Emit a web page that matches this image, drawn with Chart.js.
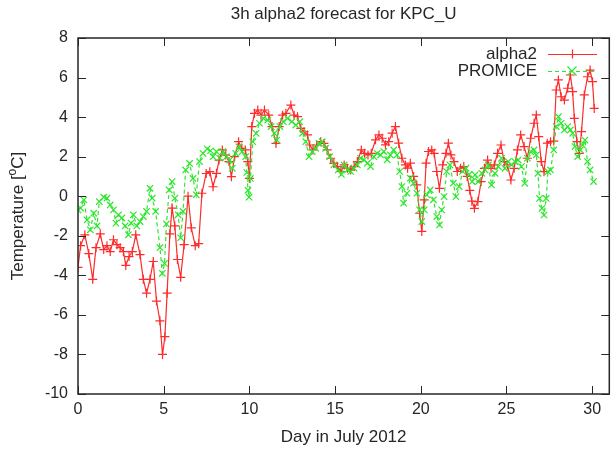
<!DOCTYPE html>
<html lang="en">
<head>
  <meta charset="UTF-8" />
  <title>3h alpha2 forecast for KPC_U</title>
  <script src="https://cdn.jsdelivr.net/npm/chart.js"></script>
  <style>
    * { margin: 0; padding: 0; box-sizing: border-box; }
    body { background: #ffffff; }
    canvas { display: block; }
  </style>
</head>
<body>
  <canvas id="forecastChart" width="615" height="449"></canvas>

  <script>
    // Day in July 2012 and temperature (°C)
    const alphaDays = [
      0.00, 0.15, 0.40, 0.63, 0.86, 1.05, 1.30, 1.50, 1.69, 1.88, 2.07, 2.27, 2.46, 2.65, 2.79, 2.98,
      3.17, 3.37, 3.62, 3.81, 4.00, 4.20, 4.39, 4.58, 4.78, 4.93, 5.07, 5.20, 5.36, 5.49, 5.65, 5.80,
      5.99, 6.19, 6.42, 6.61, 6.84, 7.04, 7.23, 7.48, 7.69, 7.88, 8.08, 8.23, 8.42, 8.62, 8.81, 8.95,
      9.14, 9.37, 9.56, 9.76, 9.91, 10.00, 10.14, 10.30, 10.49, 10.68, 10.88, 11.13, 11.32, 11.55,
      11.74, 11.94, 12.13, 12.42, 12.61, 12.81, 13.00, 13.19, 13.39, 13.52, 13.71, 13.93, 14.16,
      14.35, 14.54, 14.74, 14.93, 15.14, 15.33, 15.53, 15.72, 15.91, 16.11, 16.30, 16.53, 16.72,
      16.92, 17.11, 17.36, 17.56, 17.75, 17.94, 18.13, 18.33, 18.52, 18.71, 18.90, 19.10, 19.23,
      19.39, 19.58, 19.77, 19.93, 20.06, 20.20, 20.31, 20.45, 20.64, 20.78, 20.93, 21.09, 21.28,
      21.47, 21.61, 21.76, 21.94, 22.13, 22.32, 22.51, 22.71, 22.86, 22.98, 23.13, 23.33, 23.52,
      23.71, 23.90, 24.10, 24.29, 24.48, 24.68, 24.87, 25.06, 25.26, 25.45, 25.64, 25.83, 26.03,
      26.22, 26.41, 26.61, 26.74, 26.88, 27.03, 27.19, 27.38, 27.57, 27.76, 27.90, 28.03, 28.19,
      28.38, 28.57, 28.73, 28.86, 28.96, 29.11, 29.25, 29.38, 29.54, 29.73, 29.88, 30.02, 30.12
    ];
    const alphaTemps = [
      -3.6, -2.5, -1.95, -2.9, -4.2, -2.6, -1.9, -2.7, -2.5, -2.8, -2.2, -2.45, -2.6, -2.8, -3.5, -3.05,
      -2.8, -1.95, -2.95, -4.2, -4.9, -4.2, -3.3, -5.3, -6.3, -8.0, -7.1, -4.9, -1.9, -0.6, -1.5, -3.2,
      -4.1, -2.45, 0.0, -1.6, -2.5, -2.4, 0.15, 1.15, 1.24, 0.48, 1.16, 1.83, 2.34, 2.08, 1.75, 0.99,
      2.0, 2.76, 2.42, 2.34, 1.75, 0.9, 3.52, 4.19, 4.36, 4.1, 4.36, 4.1, 3.52, 2.67,
      3.52, 4.1, 4.19, 4.61, 4.1, 4.02, 3.43, 3.26, 3.1, 2.59, 2.34, 2.59, 2.76,
      2.67, 2.34, 1.92, 1.66, 1.5, 1.25, 1.58, 1.42, 1.33, 1.5, 1.75, 2.34, 2.17,
      2.09, 2.17, 2.85, 3.1, 2.93, 2.6, 2.76, 3.19, 3.52, 2.68, 1.92, 1.58, 1.42,
      1.67, 1.0, 0.57, -0.86, -1.78, -0.18, 1.67, 2.26, 2.34, 2.17, 1.25, 0.4, 1.58,
      2.17, 2.68, 2.09, 1.75, 1.25, 1.42, 1.5, 1.0, 0.3, -0.25, -0.61, -0.27, 0.74,
      1.41, 1.83, 1.41, 1.58, 2.17, 2.59, 1.75, 1.58, 0.82, 1.41, 2.34, 3.1, 2.51,
      1.92, 2.93, 3.69, 4.11, 3.01, 1.75, 1.24, 2.68, 2.76, 2.79, 5.37, 5.88, 5.03,
      4.86, 5.46, 6.13, 5.29, 3.94, 2.76, 2.17, 3.27, 5.12, 6.04, 6.38, 5.79, 4.44
    ];

    const promiceDays = [
      0.00, 0.15, 0.34, 0.53, 0.72, 0.92, 1.11, 1.24, 1.50, 1.69, 1.88, 2.07, 2.21, 2.36, 2.56, 2.75,
      2.94, 3.10, 3.23, 3.43, 3.62, 3.81, 4.00, 4.20, 4.33, 4.53, 4.78, 4.92, 5.05, 5.16, 5.32, 5.49,
      5.65, 5.84, 5.99, 6.13, 6.28, 6.51, 6.71, 6.90, 7.09, 7.29, 7.54, 7.73, 7.88, 8.08, 8.27, 8.46,
      8.66, 8.85, 9.00, 9.20, 9.39, 9.58, 9.78, 9.85, 9.92, 9.98, 10.06, 10.20, 10.39, 10.59, 10.82,
      11.07, 11.27, 11.46, 11.59, 11.78, 11.98, 12.23, 12.48, 12.71, 12.94, 13.10, 13.29, 13.48,
      13.67, 13.87, 14.06, 14.25, 14.45, 14.68, 14.93, 15.18, 15.37, 15.53, 15.72, 15.91, 16.11,
      16.30, 16.49, 16.69, 16.88, 17.07, 17.26, 17.46, 17.65, 17.84, 18.04, 18.23, 18.42, 18.61,
      18.77, 18.90, 19.00, 19.19, 19.39, 19.58, 19.77, 19.93, 20.06, 20.20, 20.35, 20.55, 20.74,
      20.93, 21.09, 21.22, 21.36, 21.51, 21.70, 21.90, 22.05, 22.24, 22.44, 22.63, 22.82, 23.00,
      23.17, 23.36, 23.56, 23.75, 23.94, 24.13, 24.33, 24.52, 24.71, 24.91, 25.10, 25.29, 25.49,
      25.68, 25.87, 26.07, 26.22, 26.41, 26.61, 26.74, 26.84, 26.93, 27.07, 27.19, 27.32, 27.42,
      27.57, 27.76, 27.90, 28.03, 28.19, 28.38, 28.57, 28.73, 28.86, 29.00, 29.15, 29.31, 29.44,
      29.58, 29.73, 29.88, 30.08
    ];
    const promiceTemps = [
      -0.69, -0.6, -0.18, -1.2, -1.7, -0.86, -1.5, -0.27, -0.05, -0.1, -0.44, -0.69, -1.36, -0.94, -1.1, -1.5,
      -1.95, -1.36, -0.94, -1.5, -1.28, -1.03, -0.77, 0.4, -0.1, -0.77, -2.6, -3.9, -3.4, -1.4, 0.32, 0.74,
      -0.1, -0.94, -2.1, -0.77, 1.33, 1.66, 0.9, 0.07, 1.75, 2.17, 2.4, 2.3, 2.0, 2.25, 1.92, 2.25,
      2.0, 1.83, 1.41, 2.17, 2.5, 2.25, 2.0, 1.2, 0.3, -0.05, 0.9, 2.76, 3.18, 3.69, 3.94,
      3.85, 3.52, 3.18, 2.84, 3.52, 3.77, 3.94, 3.77, 3.6, 3.77, 3.18, 2.76, 2.0,
      2.25, 2.42, 2.67, 2.76, 2.42, 2.0, 1.58, 1.33, 1.1, 1.58, 1.33, 1.25, 1.42,
      1.58, 1.92, 1.84, 1.67, 1.5, 2.0, 2.17, 2.09, 2.26, 1.84, 2.09, 2.34, 2.09,
      1.25, 0.49, -0.35, 0.15, 0.91, 0.66, 0.15, -0.69, -1.28, -0.69, 0.07, 0.32, -0.18,
      -1.03, -1.45, -0.69, -0.02, 1.25, 1.58, 0.66, -0.02, 0.49, 1.25, 1.42, 1.1, 0.74,
      1.08, 0.74, 1.16, 1.33, 1.58, 0.57, 1.16, 1.5, 1.92, 1.41, 1.75, 1.58, 1.75,
      1.83, 1.5, 0.65, 1.92, 2.25, 2.34, 2.09, 1.16, -0.11, -0.61, -0.95, -0.11, 1.24,
      1.33, 2.34, 3.52, 4.02, 3.69, 3.35, 3.52, 3.35, 3.18, 2.51, 2.0, 2.34, 2.59,
      2.84, 1.75, 1.33, 0.74
    ];

    const xTickStep = 5;
    const yTickStep = 2;

    const toPoints = (xs, ys) => xs.map((x, i) => ({ x: x, y: ys[i] }));

    const FONT = '"Liberation Sans", Arial, sans-serif';
    const INK = '#262626';
    const LABEL_SIZE = 17;

    // gnuplot-like frame, inward ticks, titles and key
    const gnuplotLook = {
      id: 'gnuplotLook',
      afterDatasetsDraw(chart) {
        const c = chart.ctx;
        const a = chart.chartArea;
        const xs = chart.scales.x;
        const ys = chart.scales.y;
        const tick = 8;

        c.save();
        c.strokeStyle = INK;
        c.lineWidth = 1;
        c.beginPath();
        xs.ticks.forEach(t => {
          const px = Math.round(xs.getPixelForValue(t.value)) + 0.5;
          c.moveTo(px, a.bottom); c.lineTo(px, a.bottom - tick);
          c.moveTo(px, a.top); c.lineTo(px, a.top + tick);
        });
        ys.ticks.forEach(t => {
          const py = Math.round(ys.getPixelForValue(t.value)) + 0.5;
          c.moveTo(a.left, py); c.lineTo(a.left + tick, py);
          c.moveTo(a.right, py); c.lineTo(a.right - tick, py);
        });
        c.stroke();

        c.lineWidth = 1.5;
        c.strokeRect(a.left, a.top, a.right - a.left, a.bottom - a.top);

        // title
        const cx = (a.left + a.right) / 2;
        c.fillStyle = INK;
        c.font = LABEL_SIZE + 'px ' + FONT;
        c.textAlign = 'center';
        c.textBaseline = 'middle';
        c.fillText('3h alpha2 forecast for KPC_U', cx, 14);

        // x axis title
        c.fillText('Day in July 2012', cx, 437);

        // y axis title with superscript o
        c.save();
        c.translate(18, (a.top + a.bottom) / 2);
        c.rotate(-Math.PI / 2);
        const p1 = 'Temperature [', p2 = 'o', p3 = 'C]';
        c.font = LABEL_SIZE + 'px ' + FONT;
        const w1 = c.measureText(p1).width;
        const w3 = c.measureText(p3).width;
        c.font = '12px ' + FONT;
        const w2 = c.measureText(p2).width;
        const x0 = -(w1 + w2 + w3) / 2;
        c.textAlign = 'left';
        c.font = LABEL_SIZE + 'px ' + FONT;
        c.fillText(p1, x0, 0);
        c.font = '12px ' + FONT;
        c.fillText(p2, x0 + w1, -5);
        c.font = LABEL_SIZE + 'px ' + FONT;
        c.fillText(p3, x0 + w1 + w2, 0);
        c.restore();

        // key
        c.font = LABEL_SIZE + 'px ' + FONT;
        c.textAlign = 'right';
        chart.data.datasets.forEach((ds, i) => {
          const y = 54 + i * 17;
          c.fillStyle = INK;
          c.fillText(ds.label, 537, y);
          c.strokeStyle = ds.borderColor;
          c.lineWidth = ds.borderWidth;
          c.setLineDash(ds.borderDash || []);
          c.beginPath();
          c.moveTo(548, y + 0.5); c.lineTo(597, y + 0.5);
          c.stroke();
          c.setLineDash([]);
          const r = ds.pointRadius;
          c.beginPath();
          if (ds.pointStyle === 'cross') {
            c.moveTo(572 - r, y + 0.5); c.lineTo(572 + r, y + 0.5);
            c.moveTo(572.5, y - r); c.lineTo(572.5, y + r);
          } else {
            c.moveTo(572 - r, y - r); c.lineTo(572 + r, y + r);
            c.moveTo(572 - r, y + r); c.lineTo(572 + r, y - r);
          }
          c.stroke();
        });
        c.restore();
      }
    };

    const ctx = document.getElementById('forecastChart').getContext('2d');
    const chart = new Chart(ctx, {
      type: 'line',
      data: {
        datasets: [{
          label: 'alpha2',
          data: toPoints(alphaDays, alphaTemps),
          borderColor: '#ff2a2a',
          backgroundColor: '#ff2a2a',
          borderWidth: 1.2,
          pointStyle: 'cross',
          pointRadius: 4.5,
          pointBorderWidth: 1.2,
          pointBorderColor: '#ff2a2a',
          tension: 0,
          fill: false,
          order: 2
        }, {
          label: 'PROMICE',
          data: toPoints(promiceDays, promiceTemps),
          borderColor: '#2ee62e',
          backgroundColor: '#2ee62e',
          borderWidth: 1.2,
          borderDash: [4, 3],
          pointStyle: 'crossRot',
          pointRadius: 4.5,
          pointBorderWidth: 1.2,
          pointBorderColor: '#2ee62e',
          tension: 0,
          fill: false,
          order: 1
        }]
      },
      options: {
        responsive: false,
        animation: false,
        layout: { padding: { top: 38, right: 2, left: 0, bottom: 0 } },
        plugins: {
          legend: { display: false },
          title: { display: false },
          tooltip: { enabled: false }
        },
        scales: {
          x: {
            type: 'linear',
            min: 0,
            max: 31,
            ticks: {
              stepSize: xTickStep,
              includeBounds: false,
              color: INK,
              font: { family: FONT, size: 16 },
              padding: 6,
              maxRotation: 0
            },
            grid: { display: false, drawTicks: false },
            border: { display: false },
            afterFit: s => { s.height = 55; }
          },
          y: {
            min: -10,
            max: 8,
            ticks: {
              stepSize: yTickStep,
              color: INK,
              font: { family: FONT, size: 16 },
              padding: 10
            },
            grid: { display: false, drawTicks: false },
            border: { display: false },
            afterFit: s => { s.width = 78; }
          }
        }
      },
      plugins: [gnuplotLook]
    });
  </script>
</body>
</html>
